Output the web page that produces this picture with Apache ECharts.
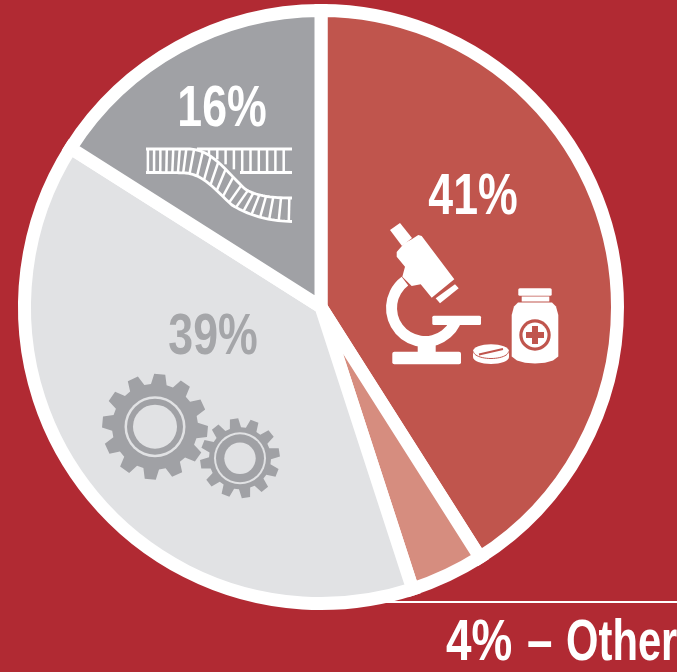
<!DOCTYPE html>
<html>
<head>
<meta charset="utf-8">
<style>html,body{margin:0;padding:0;background:#B12A33;overflow:hidden}#c{width:677px;height:672px}</style>
<script src="https://cdn.jsdelivr.net/npm/echarts@6/dist/echarts.min.js"></script>
</head>
<body>
<div id="c"></div>
<script>
// Share of each slice, clockwise from twelve o'clock
const names = ['Drug discovery', 'Other', 'Engineering', 'Genomics'];
const values = [41, 4, 39, 16];
const sliceColors = ['#C0554D', '#D68D7F', '#E1E2E4', '#A0A1A5'];
const otherLabel = 'Other';

const WHITE = '#FFFFFF', RED = '#C0554D', GREY = '#A0A1A5', LIGHT = '#E1E2E4';
const FONT = 'bold 58px "Liberation Sans Narrow", "Liberation Sans", sans-serif';

function poly(points, fill, z) {
  return { type: 'polygon', shape: { points: points }, style: { fill: fill }, z: z || 20, silent: true };
}
function box(x, y, w, h, r, fill, z) {
  return { type: 'rect', shape: { x: x, y: y, width: w, height: h, r: r }, style: { fill: fill }, z: z || 20, silent: true };
}
function circle(cx, cy, r, fill, z) {
  return { type: 'circle', shape: { cx: cx, cy: cy, r: r }, style: { fill: fill }, z: z, silent: true };
}
function trace(points, stroke, w, z) {
  return { type: 'polyline', shape: { points: points }, style: { fill: 'none', stroke: stroke, lineWidth: w }, z: z || 21, silent: true };
}
function seg(x1, y1, x2, y2, stroke, w, z) {
  return { type: 'line', shape: { x1: x1, y1: y1, x2: x2, y2: y2 }, style: { stroke: stroke, lineWidth: w }, z: z || 21, silent: true };
}
function pct(text, x, y, fill) {
  return { type: 'text', x: x, y: y, scaleX: 0.77, z: 30, silent: true,
    style: { text: text, fill: fill, font: FONT, align: 'center', verticalAlign: 'middle' } };
}
function caption(text, x, y, squeeze) {
  return { type: 'text', x: x, y: y, scaleX: squeeze, z: 30, silent: true,
    style: { text: text, fill: WHITE, font: FONT, align: 'left', verticalAlign: 'middle' } };
}

// Toothed wheel outline
function gear(cx, cy, rOut, rRoot, teeth, rot) {
  const pts = [];
  const step = Math.PI * 2 / teeth;
  for (let i = 0; i < teeth; i++) {
    const a = rot + i * step;
    [[a - step * 0.35, rRoot], [a - step * 0.2, rOut], [a + step * 0.2, rOut], [a + step * 0.35, rRoot]].forEach(p => {
      pts.push([cx + p[1] * Math.cos(p[0]), cy + p[1] * Math.sin(p[0])]);
    });
  }
  return pts;
}
function gearIcon(cx, cy, rOut, rRoot, teeth, rot, rLine, lineW, rHole) {
  return [
    poly(gear(cx, cy, rOut, rRoot, teeth, rot), GREY),
    circle(cx, cy, rLine, LIGHT, 22),
    circle(cx, cy, rLine - lineW, GREY, 23),
    circle(cx, cy, rHole, LIGHT, 24)
  ];
}

// Double helix peeling away from a straight ladder
function cubic(a, b, c, d, t) {
  const s = 1 - t;
  return s * s * s * a + 3 * s * s * t * b + 3 * s * t * t * c + t * t * t * d;
}
function strand(segs, u) {
  const n = segs.length, f = Math.min(u * n, n - 1e-6), i = Math.floor(f), t = f - i, g = segs[i];
  return [cubic(g[0], g[2], g[4], g[6], t), cubic(g[1], g[3], g[5], g[7], t)];
}
function helix() {
  const upper = [
    [146, 149, 160, 149, 175, 149, 190, 149],
    [190, 149, 212, 150, 225, 170, 245, 189],
    [245, 189, 256, 196, 272, 198, 292, 198]
  ];
  const lower = [
    [146, 172.5, 160, 172.5, 175, 172.5, 186, 173],
    [186, 173, 205, 175, 217, 192, 232, 205],
    [232, 205, 248, 215, 268, 221, 292, 221.5]
  ];
  const out = [];
  const railA = [], railB = [];
  for (let i = 0; i <= 60; i++) {
    railA.push(strand(upper, i / 60));
    railB.push(strand(lower, i / 60));
  }
  out.push(trace(railA, WHITE, 2.8), trace(railB, WHITE, 2.8));
  const N = 20;
  for (let i = 0; i <= N; i++) {
    const u = 0.015 + 0.97 * i / N, a = strand(upper, u), b = strand(lower, u);
    out.push(seg(a[0], a[1], b[0], b[1], WHITE, 2.5));
  }
  // Straight ladder continuing to the right
  out.push(seg(197, 149, 292, 149, WHITE, 2.8), seg(240, 172.5, 292, 172.5, WHITE, 2.8));
  for (let x = 209; x <= 287; x += 8.3) {
    const bottom = x > 236 ? 172.5 : 149 + (x - 200) * 0.6;
    out.push(seg(x, 149, x, bottom, WHITE, 2.5));
  }
  return out;
}

// Microscope, pill and medicine bottle
function labIcons() {
  const ellipseEdge = [];
  for (let i = 0; i <= 24; i++) {
    const a = Math.PI * i / 24;
    ellipseEdge.push([491 + 17.5 * Math.cos(a), 351.5 + 7 * Math.sin(a)]);
  }
  return [
    poly([[390, 230], [400, 223], [412, 238], [402, 246]], WHITE),
    poly([[396.7, 252], [404.3, 243.3], [411.7, 239.3], [418.3, 235], [421.7, 236], [454.3, 279.3], [431.7, 297.7], [420.7, 284.3], [411.7, 286], [402.3, 276.7], [405, 266.7], [396.7, 256.7]], WHITE),
    poly([[435.7, 298.3], [455, 284.3], [458.7, 288.3], [440, 303.3]], WHITE),
    // Curved arm, angles measured clockwise from three o'clock
    { type: 'sector', shape: { cx: 425, cy: 308, r0: 28, r: 39, startAngle: 0.46, endAngle: 4.07, clockwise: true }, style: { fill: WHITE }, z: 20, silent: true },
    box(432.3, 315.7, 48.7, 9.3, 1.5, WHITE),
    box(417.7, 344, 18, 8, 0, WHITE),
    box(392.3, 351.7, 68.7, 12.6, 2, WHITE),

    box(518.3, 288.3, 33.4, 7.4, 1.5, WHITE),
    box(521.7, 296.5, 27.6, 5, 0, WHITE),
    poly([[518, 302.5], [552, 302.5], [556, 306.5], [558.3, 315], [558.3, 356.5], [553, 360.5], [545, 362.8], [535, 363.5], [525, 362.8], [517, 360.5], [511.7, 356.5], [511.7, 315], [514, 306.5]], WHITE),
    circle(535, 335, 15.7, RED, 22),
    circle(535, 335, 12.5, WHITE, 23),
    poly([[532, 326], [538, 326], [538, 332], [544, 332], [544, 338], [538, 338], [538, 344], [532, 344], [532, 338], [526, 338], [526, 332], [532, 332]], RED, 24),

    { type: 'ellipse', shape: { cx: 491, cy: 351, rx: 18, ry: 6.8 }, style: { fill: WHITE }, z: 20, silent: true },
    { type: 'ellipse', shape: { cx: 491, cy: 357, rx: 18, ry: 7 }, style: { fill: WHITE }, z: 20, silent: true },
    box(473, 351, 36, 6, 0, WHITE),
    trace(ellipseEdge, RED, 1, 22),
    seg(479, 354.5, 503, 349, RED, 1.8, 22)
  ];
}

const chart = echarts.init(document.getElementById('c'), null, { renderer: 'canvas' });
chart.setOption({
  backgroundColor: '#B12A33',
  animation: false,
  series: [{
    type: 'pie',
    center: [321, 307],
    radius: [0, 296.5],
    startAngle: 90,
    clockwise: true,
    silent: true,
    label: { show: false },
    labelLine: { show: false },
    itemStyle: { borderColor: WHITE, borderWidth: 13, borderJoin: 'miter' },
    emphasis: { disabled: true },
    data: names.map((n, i) => ({ name: n, value: values[i], itemStyle: { color: sliceColors[i] } }))
  }],
  graphic: { elements: [
    pct(values[0] + '%', 473, 198, WHITE),
    pct(values[2] + '%', 213, 338, '#A5A6A9'),
    pct(values[3] + '%', 222, 110, WHITE),
    seg(385, 602, 677, 602, WHITE, 2, 30),
    caption(values[1] + '%', 446, 644, 0.79),
    caption('–', 527, 644, 0.79),
    caption(otherLabel, 566, 644, 0.72)
  ].concat(
    labIcons(),
    gearIcon(155, 426.7, 53, 43, 12, 0.09, 30.5, 2.5, 22),
    gearIcon(240, 458.3, 40, 31, 12, -0.15, 26, 2, 15.7),
    helix()
  ) }
});
</script>
</body>
</html>
